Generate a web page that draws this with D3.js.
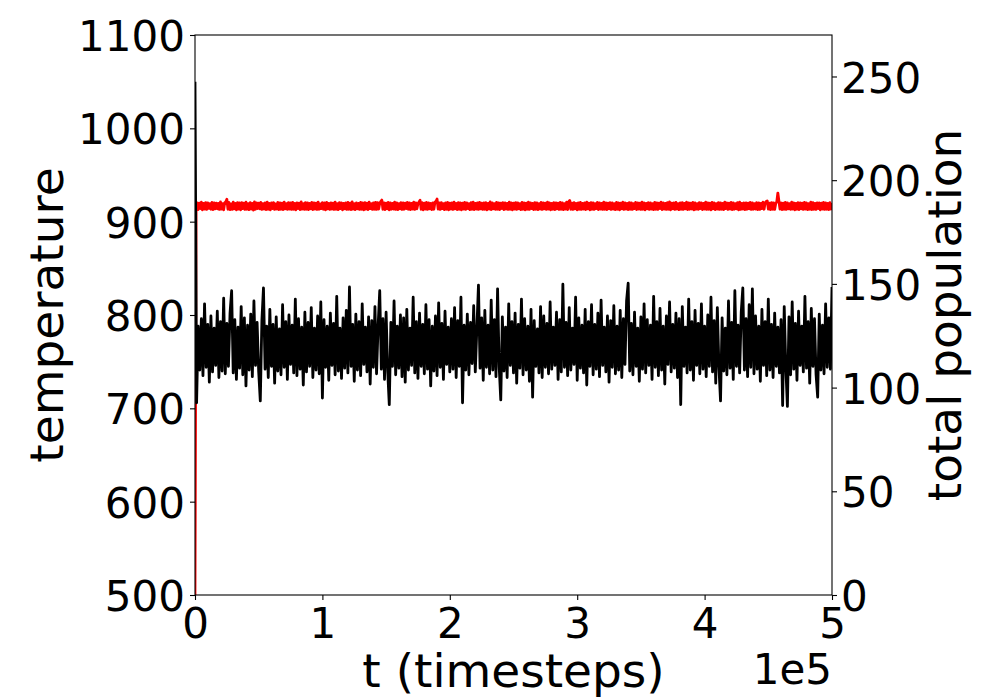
<!DOCTYPE html>
<html>
<head>
<meta charset="utf-8">
<script src="https://cdnjs.cloudflare.com/ajax/libs/d3/7.8.5/d3.min.js"></script>
<style>
    body { margin: 0; background: #fff; }
    text { font-family: "DejaVu Sans", sans-serif; }
</style>
</head>
<body>
<div id="svg_chart_div"></div>
<script>
// temperature, one value per 5e5/400 timesteps
var temperature = [1050,
    706, 788, 741, 796, 735, 812, 744, 790, 728, 799,
    739, 786, 746, 804, 733, 793, 740, 818, 737, 791,
    745, 802, 826, 738, 795, 731, 787, 743, 809, 736,
    797, 724, 789, 741, 801, 734, 815, 746, 792, 739,
    708, 794, 829, 742, 788, 733, 806, 745, 790, 727,
    798, 740, 785, 736, 811, 744, 793, 731, 800, 747,
    789, 738, 817, 735, 796, 742, 787, 725, 803, 739,
    792, 745, 808, 733, 786, 741, 799, 737, 814, 711,
    795, 744, 788, 730, 802, 746, 791, 736, 820, 740,
    786, 732, 797, 743, 805, 738, 830, 745, 790, 729,
    801, 741, 793, 735, 812, 747, 787, 739, 798, 726,
    794, 744, 809, 737, 789, 826, 742, 796, 731, 803,
    740, 704, 792, 745, 815, 736, 788, 743, 800, 734,
    797, 728, 806, 741, 786, 746, 819, 738, 793, 732,
    802, 745, 790, 737, 811, 742, 795, 724, 788, 740,
    799, 735, 813, 744, 791, 731, 804, 747, 787, 739,
    796, 742, 808, 733, 794, 745, 819, 706, 789, 741,
    801, 736, 792, 748, 810, 739, 786, 832, 743, 797,
    730, 805, 744, 789, 737, 816, 741, 795, 734, 828,
    745, 709, 798, 740, 787, 733, 812, 746, 793, 738,
    802, 727, 790, 743, 817, 736, 796, 741, 788, 729,
    806, 712, 794, 745, 785, 738, 809, 733, 799, 744,
    791, 737, 814, 742, 787, 746, 803, 731, 795, 739,
    833, 744, 792, 735, 808, 741, 786, 747, 819, 730,
    797, 743, 789, 738, 806, 725, 793, 745, 811, 736,
    790, 742, 802, 734, 816, 746, 787, 739, 799, 728,
    794, 744, 810, 737, 788, 741, 805, 733, 796, 747,
    815, 834, 740, 791, 736, 803, 745, 786, 729, 798,
    742, 812, 738, 795, 746, 789, 731, 820, 744, 793,
    735, 807, 741, 788, 726, 799, 747, 814, 739, 790,
    743, 802, 733, 796, 704, 809, 745, 787, 738, 817,
    741, 793, 730, 805, 746, 791, 737, 812, 742, 788,
    734, 800, 745, 819, 739, 794, 727, 808, 744, 708,
    797, 740, 786, 736, 815, 743, 792, 731, 826, 745,
    789, 738, 803, 829, 741, 796, 734, 811, 744, 828,
    737, 799, 742, 788, 729, 806, 746, 793, 735, 817,
    741, 790, 733, 802, 745, 787, 738, 795, 703, 809,
    744, 702, 798, 736, 814, 742, 791, 730, 804, 746,
    788, 739, 820, 743, 793, 727, 807, 745, 796, 736,
    712, 801, 741, 789, 737, 812, 744, 797, 742, 830];

// total population, one value per 5e5/600 timesteps
var population = [0,
    186.0, 189.1, 185.8, 188.9, 186.3, 189.4, 185.7, 188.8, 186.1, 189.2,
    185.9, 189.0, 186.4, 188.7, 186.0, 189.3, 185.8, 189.1, 186.2, 188.9,
    186.2, 188.8, 185.9, 189.5, 186.1, 188.7, 185.7, 189.1, 189.6, 190.8,
    186.0, 189.3, 185.8, 188.6, 185.9, 189.4, 186.2, 188.8, 185.7, 189.2,
    186.1, 189.0, 185.7, 189.2, 186.3, 188.9, 185.9, 189.4, 186.0, 188.7,
    185.8, 189.2, 186.1, 188.8, 185.6, 189.5, 186.0, 189.0, 186.3, 188.9,
    186.2, 189.3, 185.9, 188.7, 186.1, 189.1, 185.8, 189.4, 186.0, 188.8,
    185.7, 189.0, 186.3, 189.2, 185.9, 188.6, 186.1, 189.3, 185.8, 189.1,
    186.0, 188.9, 185.8, 189.4, 186.2, 188.7, 185.9, 189.2, 186.1, 189.0,
    185.9, 189.3, 186.0, 188.8, 185.7, 189.1, 186.3, 188.9, 185.8, 189.5,
    186.1, 188.7, 185.9, 189.2, 186.0, 189.0, 185.8, 188.8, 186.2, 189.3,
    185.8, 189.1, 186.1, 188.9, 185.9, 189.4, 186.0, 188.6, 186.3, 189.2,
    186.0, 189.0, 185.7, 189.3, 186.2, 188.8, 185.9, 189.1, 186.1, 188.9,
    185.9, 189.4, 186.0, 188.7, 185.8, 189.2, 186.3, 189.0, 185.7, 188.8,
    186.2, 189.1, 185.9, 189.3, 186.0, 188.9, 185.8, 189.5, 186.1, 188.7,
    185.8, 189.0, 186.2, 188.8, 185.9, 189.3, 186.0, 189.1, 185.7, 189.2,
    186.1, 188.9, 185.8, 189.4, 186.3, 188.7, 185.9, 189.0, 186.0, 189.3,
    185.9, 189.2, 186.1, 188.8, 189.7, 190.4, 186.0, 189.1, 185.8, 188.9,
    186.2, 189.3, 185.7, 189.0, 186.0, 188.8, 186.1, 189.4, 185.9, 189.1,
    185.8, 188.7, 186.2, 189.2, 185.9, 189.0, 186.0, 188.9, 186.3, 189.3,
    186.0, 189.1, 185.8, 188.8, 186.1, 189.4, 185.9, 189.0, 186.2, 188.7,
    189.5, 190.3, 186.0, 189.2, 185.7, 188.9, 186.1, 189.3, 185.9, 189.0,
    186.2, 188.8, 185.8, 189.1, 186.0, 189.4, 189.8, 190.9, 186.1, 189.0,
    185.9, 189.2, 186.3, 188.7, 185.8, 189.1, 186.0, 189.3, 185.7, 188.9,
    186.1, 189.0, 185.9, 189.4, 186.2, 188.8, 185.8, 189.2, 186.0, 189.1,
    185.7, 188.9, 186.1, 189.3, 185.9, 189.0, 186.3, 188.7, 185.8, 189.2,
    186.0, 189.4, 185.8, 188.8, 186.1, 189.1, 185.9, 189.3, 186.2, 188.9,
    185.9, 189.0, 186.0, 189.2, 185.7, 188.8, 186.1, 189.5, 185.8, 189.1,
    186.2, 188.7, 185.9, 189.3, 186.0, 189.0, 185.8, 188.9, 186.3, 189.2,
    185.8, 189.1, 186.1, 188.8, 185.9, 189.4, 186.0, 189.0, 185.7, 188.9,
    186.1, 189.2, 185.9, 189.0, 186.2, 188.7, 185.8, 189.3, 186.0, 189.1,
    185.7, 188.9, 186.0, 189.4, 185.9, 189.1, 186.3, 188.8, 185.8, 189.2,
    186.0, 189.0, 185.8, 188.7, 186.1, 189.3, 185.9, 189.1, 186.2, 188.9,
    185.9, 189.4, 186.1, 189.0, 185.7, 188.8, 186.0, 189.2, 185.8, 189.1,
    186.2, 188.9, 185.9, 189.3, 186.0, 189.0, 185.8, 188.7, 186.1, 189.4,
    185.8, 189.6, 190.2, 186.0, 188.9, 185.9, 189.2, 186.2, 188.8, 185.7,
    189.1, 186.0, 189.3, 185.9, 188.8, 186.1, 189.0, 185.8, 189.4, 186.2,
    188.9, 185.7, 189.2, 186.0, 189.1, 185.9, 188.7, 186.3, 189.3, 185.8,
    189.0, 186.1, 188.8, 185.9, 189.4, 186.0, 189.1, 185.8, 188.9, 186.2,
    189.2, 185.9, 189.0, 186.1, 188.7, 185.8, 189.3, 186.0, 189.1, 185.7,
    188.9, 186.2, 189.4, 185.9, 189.0, 186.1, 188.8, 185.8, 189.2, 186.0,
    189.1, 185.9, 188.7, 186.3, 189.3, 185.8, 189.0, 186.1, 188.9, 185.9,
    189.4, 186.0, 189.1, 185.7, 188.8, 186.2, 189.2, 185.9, 189.0, 186.1,
    188.7, 185.8, 189.3, 186.0, 189.1, 185.9, 188.9, 186.3, 189.4, 185.8,
    189.0, 186.1, 188.8, 185.9, 189.2, 186.0, 189.5, 185.7, 188.9, 186.2,
    189.1, 185.9, 189.3, 186.1, 188.7, 185.8, 189.0, 186.0, 189.2, 185.9,
    188.8, 186.2, 189.4, 185.8, 189.1, 186.0, 188.9, 186.1, 189.3, 185.7,
    189.0, 186.0, 188.7, 185.9, 189.2, 186.3, 189.1, 185.8, 188.8, 186.1,
    189.4, 185.9, 189.0, 186.0, 188.9, 185.7, 189.3, 186.2, 189.1, 185.8,
    188.7, 186.1, 189.2, 185.9, 189.0, 186.0, 188.8, 185.8, 189.4, 186.3,
    189.1, 185.9, 188.9, 186.1, 189.3, 185.8, 189.0, 186.0, 188.7, 186.2,
    189.2, 185.7, 189.4, 185.9, 188.8, 186.1, 189.1, 185.8, 189.0, 186.0,
    188.9, 186.2, 189.3, 185.9, 189.1, 186.0, 188.7, 186.1, 189.2, 185.8,
    189.0, 185.9, 188.8, 186.3, 189.4, 186.0, 189.1, 189.7, 190.0, 186.1,
    188.9, 185.8, 189.2, 186.0, 189.0, 185.9, 188.8, 189.6, 193.8, 189.9,
    186.1, 189.1, 185.8, 188.9, 186.0, 189.3, 185.9, 189.0, 186.2, 188.7,
    185.9, 189.4, 186.1, 189.1, 185.7, 188.8, 186.0, 189.2, 185.8, 189.0,
    186.2, 188.9, 185.9, 189.3, 186.1, 189.0, 185.8, 188.7, 186.0, 189.4,
    185.8, 189.2, 186.0, 188.8, 185.9, 189.1, 186.3, 189.0, 185.7, 188.9,
    186.1, 189.3, 185.9, 189.0, 186.0, 188.8, 185.8, 189.2, 186.1, 189.0];

var t_max = 5e5;
var x_ticks = [0, 1e5, 2e5, 3e5, 4e5, 5e5];
var x_tick_labels = ["0", "1", "2", "3", "4", "5"];
var temp_ticks = [500, 600, 700, 800, 900, 1000, 1100];
var pop_ticks = [0, 50, 100, 150, 200, 250];
var temp_range = [500, 1100];
var pop_range = [0, 270];

console.log('##points', temperature.length, population.length);

var chart_setup = function(){
    var svg = d3.select("#svg_chart_div").append("svg")
        .attr("width", 1000)
        .attr("height", 700);

    var left = 195, right = 832, top = 35, bottom = 595;
    var tick_font = 42, label_font = 47;

    var x = d3.scaleLinear().domain([0, t_max]).range([left, right]);
    var y_temp = d3.scaleLinear().domain(temp_range).range([bottom, top]);
    var y_pop = d3.scaleLinear().domain(pop_range).range([bottom, top]);

    // time of sample i
    var t_of = function(i, n){ return i * t_max / (n - 1); };

    var line_temp = d3.line()
        .x(function(d, i){ return x(t_of(i, temperature.length)); })
        .y(function(d){ return y_temp(d); });
    var line_pop = d3.line()
        .x(function(d, i){ return x(t_of(i, population.length)); })
        .y(function(d){ return y_pop(d); });

    svg.append("defs").append("clipPath")
        .attr("id", "plot_clip")
        .append("rect")
        .attr("x", left).attr("y", top)
        .attr("width", right - left).attr("height", bottom - top);

    var plot = svg.append("g").attr("clip-path", "url(#plot_clip)");

    plot.append("path")
        .datum(population)
        .attr("fill", "none")
        .attr("stroke", "#ff0000")
        .attr("stroke-width", 2.8)
        .attr("stroke-linejoin", "round")
        .attr("d", line_pop);

    plot.append("path")
        .datum(temperature)
        .attr("fill", "none")
        .attr("stroke", "#000")
        .attr("stroke-width", 2.8)
        .attr("stroke-linejoin", "round")
        .attr("d", line_temp);

    // frame
    svg.append("rect")
        .attr("x", left).attr("y", top)
        .attr("width", right - left).attr("height", bottom - top)
        .attr("fill", "none")
        .attr("stroke", "#000")
        .attr("stroke-width", 1.1);

    var style_axis = function(g, dy){
        g.select(".domain").remove();
        g.selectAll(".tick line").attr("stroke", "#000").attr("stroke-width", 1.1);
        g.selectAll(".tick text")
            .attr("fill", "#000")
            .style("font-size", tick_font + "px")
            .style("font-family", "'DejaVu Sans', sans-serif");
        if (dy) g.selectAll(".tick text").attr("dy", dy);
    };

    svg.append("g")
        .attr("transform", "translate(0," + bottom + ")")
        .call(d3.axisBottom(x)
            .tickValues(x_ticks)
            .tickFormat(function(d, i){ return x_tick_labels[i]; })
            .tickSize(5)
            .tickPadding(8))
        .call(style_axis);

    svg.append("g")
        .attr("transform", "translate(" + left + ",0)")
        .call(d3.axisLeft(y_temp)
            .tickValues(temp_ticks)
            .tickFormat(d3.format("d"))
            .tickSize(5)
            .tickPadding(5))
        .call(style_axis, "0.37em");

    svg.append("g")
        .attr("transform", "translate(" + right + ",0)")
        .call(d3.axisRight(y_pop)
            .tickValues(pop_ticks)
            .tickFormat(d3.format("d"))
            .tickSize(5)
            .tickPadding(4))
        .call(style_axis, "0.37em");

    // labels
    svg.append("text")
        .attr("x", (left + right) / 2)
        .attr("y", 687)
        .attr("text-anchor", "middle")
        .style("font-size", label_font + "px")
        .text("t (timesteps)");

    svg.append("text")
        .attr("x", right)
        .attr("y", 684)
        .attr("text-anchor", "end")
        .style("font-size", tick_font + "px")
        .text("1e5");

    svg.append("text")
        .attr("transform", "translate(63," + (top + bottom) / 2 + ") rotate(-90)")
        .attr("text-anchor", "middle")
        .style("font-size", label_font + "px")
        .text("temperature");

    svg.append("text")
        .attr("transform", "translate(961," + (top + bottom) / 2 + ") rotate(-90)")
        .attr("text-anchor", "middle")
        .style("font-size", label_font + "px")
        .text("total population");
};//chart_setup

chart_setup();
</script>
</body>
</html>
